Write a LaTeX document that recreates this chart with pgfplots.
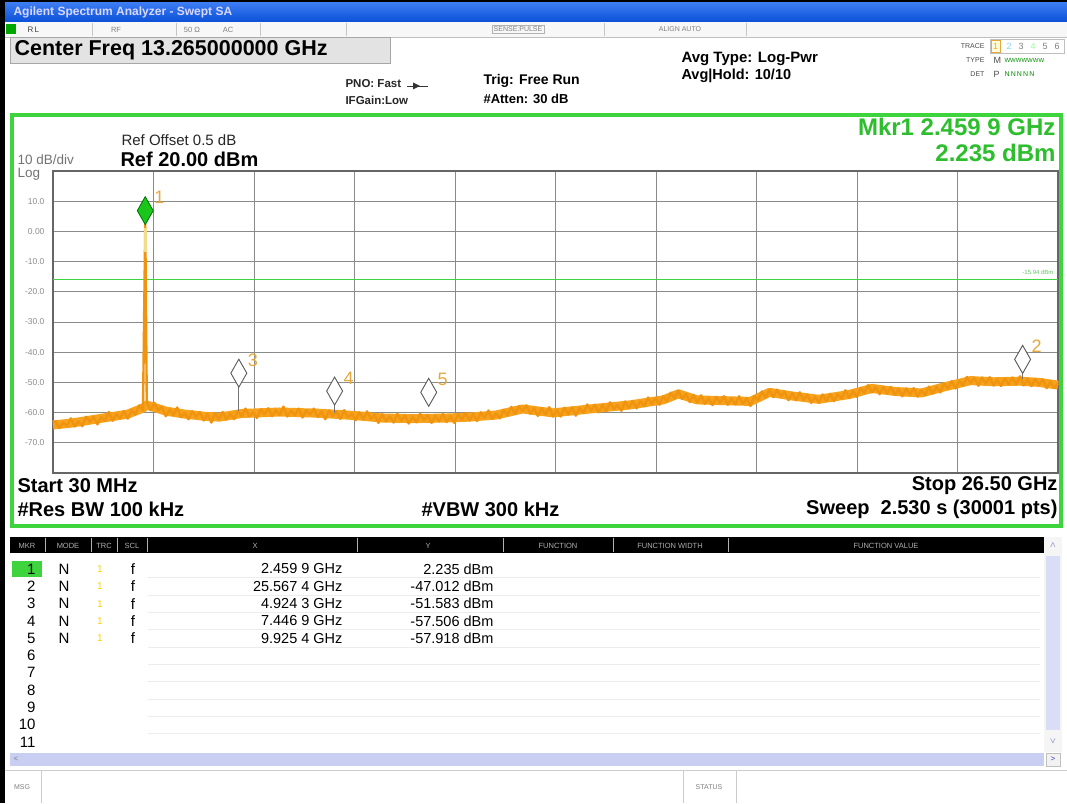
\documentclass[border=0pt]{standalone}
\usepackage{fontspec}
\setmainfont{Liberation Sans}
\usepackage{pgfplots}
\pgfplotsset{compat=1.18}
\newcommand\fs[1]{\fontsize{#1}{#1}\selectfont}
\definecolor{frgreen}{HTML}{3ED43E}
\definecolor{mkgreen}{HTML}{2DBE2D}
\definecolor{trace}{HTML}{F7A21C}
\definecolor{tracedk}{HTML}{F09410}
\definecolor{paley}{HTML}{F2DC8A}
\definecolor{lbl}{HTML}{E6A83C}
\definecolor{gridc}{HTML}{8A8A8A}
\definecolor{tickc}{HTML}{8C8C8C}
\definecolor{tbarA}{HTML}{3C7CF2}
\definecolor{tbarB}{HTML}{0A50D8}
\definecolor{scrl}{HTML}{C9CFF2}
\definecolor{hdrtxt}{HTML}{B0B0B0}
\begin{document}
\begin{tikzpicture}
\useasboundingbox (0,0) rectangle (1067pt,803pt);
\begin{scope}[shift={(0pt,803pt)},x=1pt,y=-1pt]
% frame and title bar
\fill[black] (0,0) rectangle (1067,803);
\fill[white] (5,3) rectangle (1067,803);
\shade[top color=tbarA,bottom color=tbarB] (5,3) rectangle (1067,22);
\node[anchor=west,text=white!85!blue,font=\bfseries\fs{12}] at (10,12.5) {Agilent Spectrum Analyzer - Swept SA};
% status row
\fill[gray!6] (5,22) rectangle (1067,37);
\draw[gray!50] (5,37)--(1067,37);
\foreach \x in {92,176,260,346,604,746} \draw[gray!45] (\x,23)--(\x,36);
\fill[green!65!black] (6,24) rectangle (16,34);
\node[anchor=west,font=\fs{8},text=black!75] at (24,29.5) {R\,L};
\node[font=\fs{7.5},text=gray] at (116,29.5) {RF};
\node[font=\fs{7.5},text=gray] at (192,29.5) {50 Ω};
\node[font=\fs{7.5},text=gray] at (228,29.5) {AC};
\node[draw=gray!60,font=\fs{7},text=gray,inner sep=1.5pt] at (518,29.5) {SENSE:PULSE};
\node[font=\fs{7},text=gray] at (680,29.5) {ALIGN AUTO};
% center freq box
\draw[gray!70,fill=gray!22] (10,37.5) rectangle (390,63);
\node[anchor=west,font=\bfseries\fs{21.5}] at (11,50.5) {Center Freq 13.265000000 GHz};
% header texts
\node[anchor=west,font=\bfseries\fs{11.5},text=black!85] at (342,84) {PNO: Fast};
\node[anchor=west,font=\bfseries\fs{11.5},text=black!85] at (342,100) {IFGain:Low};
\draw[black!80,line width=0.8pt] (407,86)--(428,86);
\fill[black!80] (413,82.5)--(420,86)--(413,89.5)--cycle;
\node[anchor=west,font=\bfseries\fs{14}] at (480,81) {Trig: Free Run};
\node[anchor=west,font=\bfseries\fs{13}] at (480,99) {\#Atten: 30 dB};
\node[anchor=west,font=\bfseries\fs{15}] at (678,59) {Avg Type: Log-Pwr};
\node[anchor=west,font=\bfseries\fs{14.5}] at (678,76) {Avg|Hold: 10/10};
\node[anchor=east,font=\fs{7},text=black!70] at (988,46) {TRACE};
\node[anchor=east,font=\fs{7},text=black!70] at (988,60) {TYPE};
\node[anchor=east,font=\fs{7},text=black!70] at (988,74) {DET};
\draw[gray!50] (990,39) rectangle (1064,53);
\draw[lbl,fill=yellow!15] (991,40) rectangle (1000,52);
\node[font=\fs{9},text=lbl] at (995.5,46) {1};
\node[font=\fs{9},text=cyan!50] at (1009,46) {2};
\node[font=\fs{9},text=gray] at (1021,46) {3};
\node[font=\fs{9},text=green!40] at (1033,46) {4};
\node[font=\fs{9},text=gray] at (1045,46) {5};
\node[font=\fs{9},text=gray] at (1057,46) {6};
\node[anchor=west,font=\fs{9},text=black!70] at (990,60) {M};
\node[anchor=west,font=\fs{6},text=green!55!black] at (1001,60) {WWWWWWW};
\node[anchor=west,font=\fs{9},text=black!70] at (990,74) {P};
\node[anchor=west,font=\fs{7},text=green!55!black] at (1001,74) {N\,N\,N\,N\,N};
% green measurement frame
\draw[frgreen,line width=4pt] (12,115) rectangle (1061,526);
\node[anchor=west,font=\fs{15},text=black!85] at (118,140) {Ref Offset 0.5 dB};
\node[anchor=west,font=\bfseries\fs{20}] at (117,159) {Ref 20.00 dBm};
\node[anchor=west,font=\fs{13.5},text=black!55,inner sep=0.5pt] at (17,159.5) {10 dB/div};
\node[anchor=west,font=\fs{13.5},text=black!55,inner sep=0.5pt] at (17,174) {Log};
\node[anchor=east,font=\bfseries\fs{24},text=mkgreen] at (1059,127) {Mkr1 2.459 9 GHz};
\node[anchor=east,font=\bfseries\fs{24},text=mkgreen] at (1059,153) {2.235 dBm};
\node[anchor=east,font=\fs{6},text=green!60!black!60] at (1057,272) {-15.94 dBm};
\node[anchor=west,font=\bfseries\fs{20}] at (14,486) {Start 30 MHz};
\node[anchor=east,font=\bfseries\fs{20}] at (1061,486) {Stop 26.50 GHz};
\node[anchor=west,font=\bfseries\fs{20}] at (14,509) {\#Res BW 100 kHz};
\node[anchor=west,font=\bfseries\fs{20}] at (418,509) {\#VBW 300 kHz};
\node[anchor=east,font=\bfseries\fs{20}] at (1061,509) {Sweep\ \ 2.530 s (30001 pts)};
% marker table
\fill[black] (10,537) rectangle (1044,553);
\foreach \x in {45,91,117,147,357,503,613,728} \draw[gray!60] (\x,538)--(\x,552);
\foreach \x/\t in {27/MKR,68/MODE,104/TRC,132/SCL,255/X,428/Y,558/FUNCTION,670/FUNCTION WIDTH,886/FUNCTION VALUE}
  \node[font=\fs{7.5},text=hdrtxt] at (\x,545.5) {\t};
\foreach \i in {1,...,10} \draw[gray!15] (148,{577.6+17.3*(\i-1)})--(1040,{577.6+17.3*(\i-1)});
\fill[frgreen] (12,561) rectangle (42,577);
\foreach \i in {1,...,11} \node[anchor=east,font=\fs{15}] at (39,{569+17.3*(\i-1)}) {\i};
\foreach \i/\xv/\yv in {1/2.459 9 GHz/2.235 dBm,2/25.567 4 GHz/-47.012 dBm,3/4.924 3 GHz/-51.583 dBm,4/7.446 9 GHz/-57.506 dBm,5/9.925 4 GHz/-57.918 dBm}{
  \node[font=\fs{15}] at (64,{569+17.3*(\i-1)}) {N};
  \node[font=\fs{10},text=yellow!70!orange] at (100,{569+17.3*(\i-1)}) {1};
  \node[font=\fs{15}] at (133,{569+17.3*(\i-1)}) {f};
  \node[anchor=east,font=\fs{14.5}] at (346,{569+17.3*(\i-1)}) {\xv};
  \node[anchor=east,font=\fs{14.5}] at (497,{569+17.3*(\i-1)}) {\yv};
}
% scroll bars
\fill[gray!8] (1044,537) rectangle (1062,752);
\fill[scrl!70] (1046,556) rectangle (1060,730);
\node[font=\fs{8},text=blue!40!gray] at (1053,545) {$\wedge$};
\node[font=\fs{8},text=blue!40!gray] at (1053,741) {$\vee$};
\fill[scrl] (10,753) rectangle (1044,766);
\node[font=\fs{8},text=gray] at (16,759.5) {<};
\draw[gray!50,fill=gray!10] (1046,753) rectangle (1060,766);
\node[font=\fs{8},text=blue!50!gray] at (1053,759.5) {>};
% message bar
\draw[gray!40] (5,770)--(1067,770);
\draw[gray!40] (41,771)--(41,803);
\node[font=\fs{7},text=gray] at (22,787) {MSG};
\draw[gray!40] (683,771)--(683,803);
\draw[gray!40] (736,771)--(736,803);
\node[font=\fs{7},text=gray] at (709,787) {STATUS};
\end{scope}
\begin{axis}[
  at={(53pt,330pt)}, anchor=south west,
  scale only axis, width=1005pt, height=302pt,
  xmin=0.03, xmax=26.5, ymin=-80, ymax=20,
  xtick={0.03,2.677,5.324,7.971,10.618,13.265,15.912,18.559,21.206,23.853,26.5},
  xticklabels={,,,,,,,,,,,},
  ytick={-80,-70,...,20},
  yticklabels={,-70.0,-60.0,-50.0,-40.0,-30.0,-20.0,-10.0,0.00,10.0,},
  grid=major, major grid style={gridc, line width=0.8pt},
  major tick length=0pt,
  axis line style={draw=black!60, line width=1.2pt},
  yticklabel style={font=\fs{8.5}, text=tickc, xshift=-5pt},
  clip=false,
]
\addplot[frgreen, line width=0.9pt] coordinates {(0.03,-15.94) (26.5,-15.94)};
% smoothed noise floor (band)
\addplot[trace, line width=9pt, line join=round] coordinates {
(0.03,-64.1) (0.5,-63.5) (1.0,-62.5) (1.5,-61.5) (2.0,-60.5) (2.4,-58.5) (2.5,-57.5)
(3.0,-59.5) (3.5,-60.5) (4.0,-61.2) (4.4,-61.5) (5.0,-60.3) (6.0,-59.8) (7.0,-60.2)
(7.4,-60.5) (8.0,-61.0) (8.7,-61.8) (9.5,-62.0) (10.4,-61.8) (11.0,-61.5) (11.7,-60.8)
(12.4,-58.8) (13.2,-60.1) (14.4,-58.5) (15.2,-57.5) (16.1,-55.8) (16.5,-53.8) (17.0,-55.8)
(18.4,-56.3) (18.9,-53.3) (19.5,-54.5) (20.2,-55.6) (21.0,-54.0) (21.6,-52.0) (22.2,-53.0)
(22.9,-53.5) (23.5,-51.5) (24.2,-49.4) (24.8,-49.8) (25.5,-49.6) (26.0,-50.0) (26.5,-50.9)};
% measured trace with noise
\addplot[tracedk, line width=2.4pt, line join=round] coordinates {
(0.03,-63.2) (0.1,-63.0) (0.2,-65.1) (0.3,-63.3) (0.4,-64.4) (0.5,-61.9) (0.6,-64.6) (0.7,-62.9)
(0.8,-64.5) (0.9,-61.4) (1.0,-63.1) (1.1,-61.4) (1.2,-63.9) (1.3,-61.5) (1.4,-62.7) (1.5,-59.8)
(1.6,-62.7) (1.7,-60.5) (1.8,-61.8) (1.9,-59.5) (2.0,-62.0) (2.1,-59.2) (2.2,-60.6) (2.3,-57.6)
(2.4,-59.2) (2.4599,2.235) (2.5,-56.5) (2.6,-59.2) (2.7,-56.8) (2.8,-59.3) (2.9,-58.2) (3.0,-61.2)
(3.1,-59.0) (3.2,-60.8) (3.3,-58.3) (3.4,-61.5) (3.5,-60.1) (3.6,-62.2) (3.7,-59.6) (3.8,-61.4)
(3.9,-59.8) (4.0,-62.6) (4.1,-60.5) (4.2,-63.3) (4.3,-60.3) (4.4,-62.2) (4.5,-59.8) (4.6,-62.3)
(4.7,-60.3) (4.8,-62.2) (4.9,-59.5) (5.0,-61.1) (5.1,-58.7) (5.2,-61.3) (5.3,-59.9) (5.4,-61.8)
(5.5,-58.9) (5.6,-60.6) (5.7,-58.6) (5.8,-61.2) (5.9,-59.2) (6.0,-60.8) (6.1,-58.0) (6.2,-61.3)
(6.3,-59.4) (6.4,-60.9) (6.5,-58.7) (6.6,-61.6) (6.7,-59.2) (6.8,-60.6) (6.9,-58.7) (7.0,-61.4)
(7.1,-59.7) (7.2,-62.2) (7.3,-59.3) (7.4,-61.2) (7.5,-59.6) (7.6,-62.1) (7.7,-59.2) (7.8,-61.6)
(7.9,-60.5) (8.0,-62.5) (8.1,-59.9) (8.2,-62.2) (8.3,-59.6) (8.4,-62.1) (8.5,-60.7) (8.6,-63.4)
(8.7,-60.5) (8.8,-62.9) (8.9,-61.3) (9.0,-63.3) (9.1,-60.4) (9.2,-62.7) (9.3,-61.0) (9.4,-63.6)
(9.5,-61.3) (9.6,-63.2) (9.7,-60.4) (9.8,-62.4) (9.9,-60.8) (10.0,-63.4) (10.1,-61.1) (10.2,-62.9)
(10.3,-60.4) (10.4,-63.1) (10.5,-61.2) (10.6,-63.4) (10.7,-60.5) (10.8,-62.3) (10.9,-60.1) (11.0,-62.6)
(11.1,-60.5) (11.2,-62.8) (11.3,-59.9) (11.4,-61.7) (11.5,-59.3) (11.6,-62.1) (11.7,-60.3) (11.8,-61.9)
(11.9,-59.1) (12.0,-60.8) (12.1,-58.1) (12.2,-60.4) (12.3,-57.9) (12.4,-59.5) (12.5,-57.6) (12.6,-60.4)
(12.7,-58.5) (12.8,-61.1) (12.9,-58.6) (13.0,-60.6) (13.1,-58.2) (13.2,-61.3) (13.3,-59.3) (13.4,-61.3)
(13.5,-58.4) (13.6,-60.5) (13.7,-58.3) (13.8,-61.0) (13.9,-58.5) (14.0,-60.1) (14.1,-57.3) (14.2,-59.4)
(14.3,-57.4) (14.4,-59.9) (14.5,-57.5) (14.6,-59.5) (14.7,-56.6) (14.8,-58.8) (14.9,-57.5) (15.0,-59.4)
(15.1,-56.3) (15.2,-58.5) (15.3,-56.2) (15.4,-58.6) (15.5,-56.2) (15.6,-57.9) (15.7,-55.0) (15.8,-57.1)
(15.9,-55.2) (16.0,-57.4) (16.1,-54.6) (16.2,-56.2) (16.3,-53.4) (16.4,-55.3) (16.5,-52.7) (16.6,-55.5)
(16.7,-53.8) (16.8,-56.5) (16.9,-54.2) (17.0,-56.6) (17.1,-54.3) (17.2,-57.1) (17.3,-55.3) (17.4,-57.5)
(17.5,-54.9) (17.6,-56.7) (17.7,-54.6) (17.8,-57.4) (17.9,-55.2) (18.0,-57.3) (18.1,-54.6) (18.2,-57.1)
(18.3,-55.3) (18.4,-57.8) (18.5,-54.5) (18.6,-55.9) (18.7,-53.0) (18.8,-55.0) (18.9,-52.5) (19.0,-54.9)
(19.1,-52.4) (19.2,-54.6) (19.3,-53.1) (19.4,-55.9) (19.5,-53.6) (19.6,-55.9) (19.7,-53.3) (19.8,-55.8)
(19.9,-54.0) (20.0,-56.8) (20.1,-54.8) (20.2,-56.7) (20.3,-54.0) (20.4,-56.1) (20.5,-53.8) (20.6,-56.2)
(20.7,-53.9) (20.8,-55.4) (20.9,-52.6) (21.0,-55.2) (21.1,-52.8) (21.2,-54.8) (21.3,-51.9) (21.4,-53.5)
(21.5,-50.9) (21.6,-53.3) (21.7,-51.6) (21.8,-53.9) (21.9,-51.5) (22.0,-53.6) (22.1,-51.5) (22.2,-54.1)
(22.3,-52.3) (22.4,-54.6) (22.5,-52.0) (22.6,-54.0) (22.7,-51.9) (22.8,-54.7) (22.9,-52.6) (23.0,-54.2)
(23.1,-51.4) (23.2,-53.7) (23.3,-51.5) (23.4,-53.3) (23.5,-50.4) (23.6,-52.1) (23.7,-49.6) (23.8,-52.0)
(23.9,-49.5) (24.0,-51.1) (24.1,-48.2) (24.2,-50.2) (24.3,-48.5) (24.4,-51.1) (24.5,-48.4) (24.6,-50.4)
(24.7,-48.3) (24.8,-51.0) (24.9,-49.2) (25.0,-51.2) (25.1,-48.6) (25.2,-50.6) (25.3,-48.4) (25.4,-50.6)
(25.5,-48.0) (25.6,-51.0) (25.7,-49.0) (25.8,-51.2) (25.9,-48.9) (26.0,-50.8) (26.1,-49.0) (26.2,-51.9)
(26.3,-49.8) (26.4,-51.8) (26.5,-50.4)};
% faded upper part of carrier spike
\addplot[paley, line width=2.6pt] coordinates {(2.4599,-6.8) (2.4599,1.0)};
% marker stems
\addplot[black!55, line width=0.7pt] coordinates {(4.9243,-51.583) (4.9243,-59.5)};
\addplot[black!55, line width=0.7pt] coordinates {(7.4469,-57.506) (7.4469,-60.0)};
\addplot[black!55, line width=0.7pt] coordinates {(25.5674,-47.012) (25.5674,-49.0)};
% markers
\addplot[only marks, mark=diamond*, mark size=14pt,
  mark options={xscale=0.76, yshift=14pt, fill=white, draw=black!65, line width=0.9pt}]
  coordinates {(25.5674,-47.012) (4.9243,-51.583) (7.4469,-57.506) (9.9254,-57.918)};
\addplot[only marks, mark=diamond*, mark size=14pt,
  mark options={xscale=0.76, yshift=14pt, fill=green!75!black!90, draw=green!45!black, line width=0.8pt}]
  coordinates {(2.4599,2.235)};
\addplot[draw=none, nodes near coords, point meta=explicit symbolic,
  nodes near coords style={anchor=center, xshift=14pt, yshift=27pt, text=lbl, font=\fs{18}}]
  coordinates {(2.4599,2.235) [1] (25.5674,-47.012) [2] (4.9243,-51.583) [3] (7.4469,-57.506) [4] (9.9254,-57.918) [5]};
\end{axis}
\end{tikzpicture}
\end{document}
